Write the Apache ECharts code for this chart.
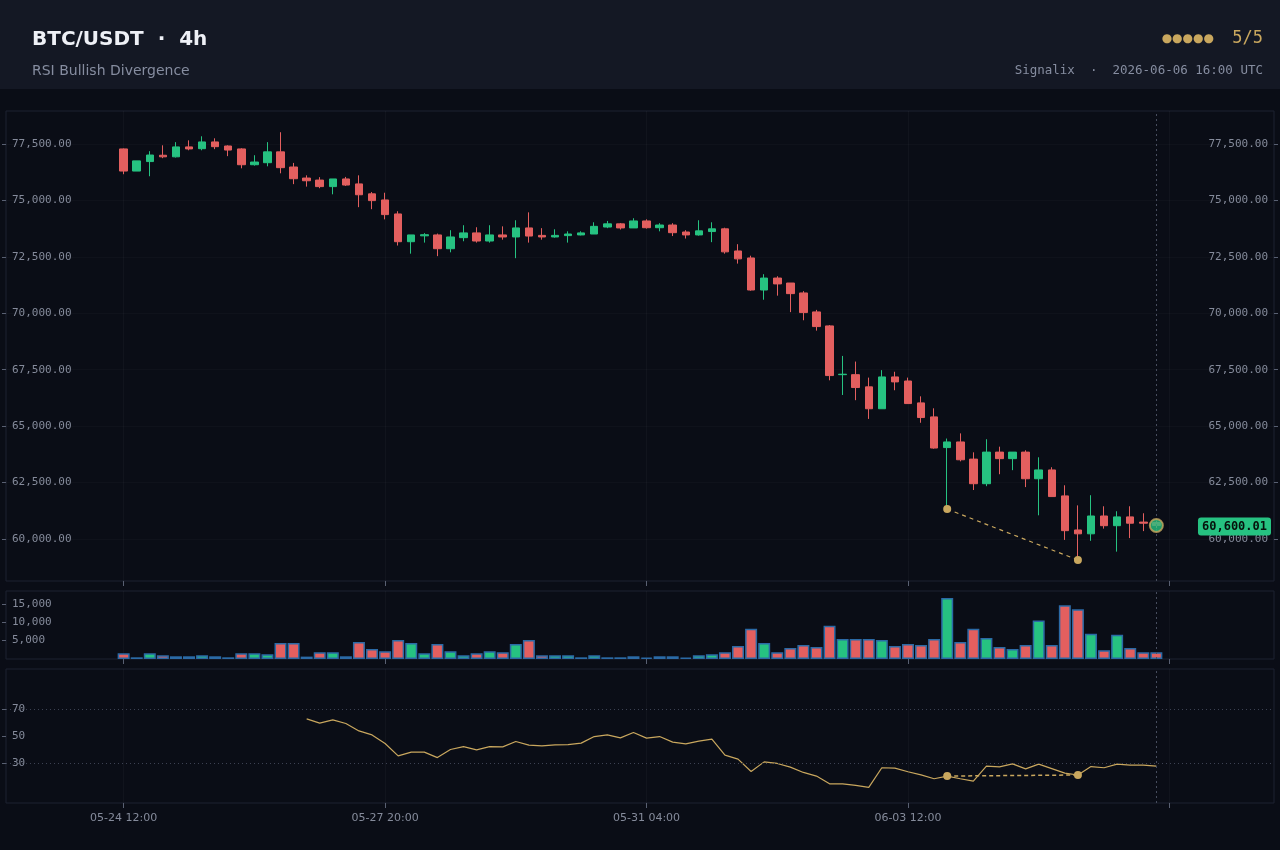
<!DOCTYPE html>
<html>
<head>
<meta charset="utf-8">
<title>BTC/USDT 4h - RSI Bullish Divergence</title>
<script src="https://cdn.jsdelivr.net/npm/echarts@6/dist/echarts.min.js"></script>
<style>
  html, body { margin: 0; padding: 0; background: #0a0d16; }
  #chart-container { width: 1280px; height: 850px; }
</style>
</head>
<body>
<div id="chart-container"></div>
<script>
var dom = document.getElementById("chart-container");
var myChart = echarts.init(dom, null, { renderer: "canvas" });

// 4h candles, first one at 2026-05-24 12:00 UTC
const START_UTC = Date.UTC(2026, 4, 24, 12, 0);
const BAR_MS = 4 * 3600 * 1000;
const PAD = 9; // empty slots on each side of the data

const opens = [
  77280, 76300, 76720, 77000, 76930, 77370, 77290, 77590, 77410, 77280,
  76580, 76670, 77150, 76480, 75990, 75900, 75610, 75950, 75730, 75290,
  75020, 74400, 73170, 73430, 73470, 72860, 73350, 73560, 73200, 73470,
  73380, 73780, 73450, 73380, 73440, 73470, 73510, 73820, 73960, 73780,
  74090, 73790, 73910, 73600, 73470, 73620, 73740, 72760, 72450, 71030,
  71560, 71340, 70900, 70060, 69440, 67280, 67280, 66740, 65770, 67180,
  67000, 66030, 65410, 64050, 64300, 63540, 62450, 63850, 63560, 63850,
  62670, 63060, 61910, 60400, 60230, 61020, 60590, 60980, 60750, 60730
];
const closes = [
  76300, 76750, 77010, 76930, 77370, 77280, 77590, 77380, 77230, 76580,
  76700, 77150, 76450, 75960, 75870, 75610, 75950, 75680, 75250, 74990,
  74370, 73170, 73470, 73480, 72860, 73380, 73560, 73200, 73470, 73380,
  73780, 73420, 73380, 73450, 73510, 73560, 73850, 73960, 73780, 74090,
  73790, 73910, 73570, 73470, 73650, 73740, 72720, 72410, 71030, 71560,
  71300, 70870, 70030, 69410, 67240, 67300, 66710, 65770, 67180, 66960,
  66000, 65380, 64030, 64300, 63510, 62450, 63850, 63560, 63850, 62670,
  63060, 61880, 60370, 60230, 61020, 60590, 60980, 60700, 60700, 60600.01
];
const highs = [
  77300, 76750, 77180, 77440, 77580, 77660, 77840, 77750, 77440, 77310,
  77000, 77580, 78020, 76660, 76110, 76030, 75950, 76040, 76110, 75370,
  75340, 74520, 73470, 73550, 73530, 73680, 73900, 73810, 73900, 73850,
  74120, 74470, 73770, 73720, 73630, 73630, 74030, 74090, 74000, 74210,
  74160, 73990, 73990, 73680, 74120, 74030, 73790, 73060, 72550, 71730,
  71640, 71340, 70980, 70150, 69480, 68110, 67860, 67150, 67480, 67410,
  67150, 66320, 65790, 64450, 64680, 63840, 64420, 64090, 63850, 63930,
  63620, 63180, 62380, 61490, 61940, 61450, 61230, 61450, 61140, 60850
];
const lows = [
  76160, 76300, 76070, 76870, 76900, 77220, 77220, 77270, 76960, 76420,
  76540, 76510, 76200, 75720, 75610, 75540, 75270, 75640, 74700, 74610,
  74160, 73000, 72640, 73130, 72530, 72700, 73190, 73130, 73130, 73260,
  72440, 73130, 73260, 73350, 73130, 73450, 73510, 73770, 73710, 73780,
  73750, 73630, 73420, 73310, 73440, 73150, 72640, 72200, 71000, 70600,
  70780, 70050, 69690, 69230, 67030, 66380, 66150, 65320, 65770, 66590,
  66000, 65150, 64000, 61325, 63440, 62170, 62340, 62870, 63050, 62300,
  61050, 61880, 59960, 59070, 59920, 60460, 59440, 60040, 60350, 60480
];
const volumes = [
  1570, 460, 1570, 1020, 740, 740, 1020, 740, 460, 1570,
  1570, 1300, 4350, 4350, 650, 1850, 1850, 740, 4630, 2690,
  2130, 5190, 4350, 1570, 4070, 2130, 1020, 1570, 2130, 1850,
  4070, 5190, 1020, 1020, 1020, 460, 1020, 460, 460, 740,
  370, 740, 740, 370, 1020, 1300, 1850, 3520, 8240, 4350,
  1850, 2960, 3800, 3240, 9070, 5460, 5460, 5460, 5190, 3520,
  4070, 3800, 5460, 16570, 4630, 8240, 5740, 3240, 2690, 3800,
  10460, 3800, 14630, 13520, 6850, 2410, 6570, 2960, 1850, 1850
];
const rsi = [
  null, null, null, null, null, null, null, null, null, null,
  null, null, null, null, 62.8, 59.6, 62.0, 59.3, 53.8, 50.8,
  44.4, 35.2, 38.0, 38.0, 33.9, 39.9, 42.1, 39.7, 42.1, 41.9,
  45.9, 43.2, 42.7, 43.4, 43.6, 44.7, 49.6, 50.8, 48.6, 52.6,
  48.4, 49.6, 45.4, 44.1, 46.2, 47.6, 35.7, 32.7, 23.5, 30.7,
  29.5, 26.8, 22.8, 20.1, 14.3, 14.3, 13.1, 11.6, 26.3, 26.0,
  23.3, 21.0, 18.1, 20.1, 18.1, 16.3, 27.5, 27.0, 29.2, 25.5,
  29.0, 25.7, 22.3, 20.9, 27.2, 26.3, 29.0, 28.3, 28.3, 27.5
];
// bullish divergence: lower low in price, higher low in RSI
const divergenceBars = [63, 73];

const priceTicks = [60000, 62500, 65000, 67500, 70000, 72500, 75000, 77500];
const volumeTicks = [5000, 10000, 15000];
const rsiTicks = [30, 50, 70];
const rsiBands = [70, 30];

const UP = "#26c281";
const DOWN = "#e35f5f";
const GOLD = "#c9a75e";
const MUTED = "#858b9b";
const MONO = '"DejaVu Sans Mono", monospace';
const SANS = '"DejaVu Sans", sans-serif';

function pad2(n) { return String(n).padStart(2, "0"); }

const categories = [];
for (let i = -PAD; i < opens.length + PAD; i++) {
  if (i < 0 || i >= opens.length) { categories.push(""); continue; }
  const d = new Date(START_UTC + i * BAR_MS);
  categories.push(pad2(d.getUTCMonth() + 1) + "-" + pad2(d.getUTCDate()) + " " + pad2(d.getUTCHours()) + ":00");
}
const lastIdx = opens.length - 1 + PAD;
const lastClose = closes[closes.length - 1];

const candleData = opens.map(function (o, i) {
  return [i + PAD, o, closes[i], lows[i], highs[i]];
});
const volumeData = volumes.map(function (v, i) {
  return { value: [i + PAD, v], itemStyle: { color: closes[i] >= opens[i] ? UP : DOWN } };
});
const rsiData = [];
rsi.forEach(function (v, i) { if (v !== null) rsiData.push([i + PAD, v]); });

const priceDiv = divergenceBars.map(function (b) { return [b + PAD, lows[b]]; });
const rsiDiv = divergenceBars.map(function (b) { return [b + PAD, rsi[b]]; });

function fmtPrice(v) {
  return Number(v).toLocaleString("en-US", { minimumFractionDigits: 2, maximumFractionDigits: 2 });
}
function fmtInt(v) { return Number(v).toLocaleString("en-US"); }

function tickEvery(idx) { return idx >= PAD && (idx - PAD) % 20 === 0; }

function makeX(gridIndex, showLabel) {
  return {
    type: "category",
    gridIndex: gridIndex,
    data: categories,
    boundaryGap: false,
    axisLine: { show: false },
    axisTick: { show: true, interval: tickEvery, length: 5, lineStyle: { color: "#596072" } },
    axisLabel: { show: showLabel, interval: tickEvery, color: MUTED, fontSize: 11, fontFamily: SANS, margin: 10 },
    splitLine: { show: true, interval: tickEvery, lineStyle: { color: "rgba(255,255,255,0.03)" } }
  };
}

function makeY(gridIndex, pos, min, max, ticks, fmt, split) {
  return {
    type: "value",
    gridIndex: gridIndex,
    position: pos,
    min: min,
    max: max,
    axisLine: { show: false },
    axisTick: { show: true, customValues: ticks, length: 4, lineStyle: { color: "#596072" } },
    axisLabel: { inside: true, customValues: ticks, formatter: fmt, color: MUTED, fontSize: 11, fontFamily: MONO, margin: 6 },
    splitLine: { show: split, lineStyle: { color: "rgba(255,255,255,0.022)" } }
  };
}

const nowLine = {
  symbol: "none",
  silent: true,
  label: { show: false },
  lineStyle: { type: [2, 3], color: "#474d5e", width: 1 },
  data: [{ xAxis: lastIdx }]
};

var option = {
  backgroundColor: "#0a0d16",
  animation: false,
  textStyle: { fontFamily: SANS },
  graphic: [
    { type: "rect", left: 0, top: 0, shape: { width: 1280, height: 89 }, style: { fill: "#141824" } },
    { type: "text", left: 32, top: 30, style: { text: "BTC/USDT  ·  4h", fill: "#eef0f6", font: 'bold 20px "DejaVu Sans"' } },
    { type: "text", left: 32, top: 64, style: { text: "RSI Bullish Divergence", fill: "#868da0", font: '14px "DejaVu Sans"' } },
    { type: "text", right: 66, top: 33, style: { text: "●●●●●", fill: GOLD, font: '12px "DejaVu Sans"' } },
    { type: "text", right: 17, top: 30, style: { text: "5/5", fill: GOLD, font: '17px "DejaVu Sans Mono"' } },
    { type: "text", right: 17, top: 64, style: { text: "Signalix  ·  2026-06-06 16:00 UTC", fill: "#868da0", font: '12.5px "DejaVu Sans Mono"' } }
  ],
  grid: [
    { left: 6, right: 6, top: 111, height: 470, show: true, borderColor: "#1d2231", backgroundColor: "transparent" },
    { left: 6, right: 6, top: 591, height: 68, show: true, borderColor: "#1d2231", backgroundColor: "transparent" },
    { left: 6, right: 6, top: 669, height: 134, show: true, borderColor: "#1d2231", backgroundColor: "transparent" }
  ],
  xAxis: [makeX(0, false), makeX(1, false), makeX(2, true)],
  yAxis: [
    makeY(0, "left", 58140, 78960, priceTicks, fmtPrice, true),
    makeY(0, "right", 58140, 78960, priceTicks, fmtPrice, false),
    makeY(1, "left", 0, 18500, volumeTicks, fmtInt, false),
    makeY(2, "left", 0, 100, rsiTicks, fmtInt, false)
  ],
  series: [
    {
      name: "BTC/USDT",
      type: "candlestick",
      xAxisIndex: 0,
      yAxisIndex: 0,
      barWidth: 8,
      encode: { x: 0, y: [1, 2, 3, 4] },
      data: candleData,
      itemStyle: { color: UP, color0: DOWN, borderColor: UP, borderColor0: DOWN, borderWidth: 1 },
      markLine: nowLine
    },
    {
      name: "Price divergence",
      type: "line",
      xAxisIndex: 0,
      yAxisIndex: 0,
      data: priceDiv,
      symbol: "circle",
      symbolSize: 8,
      itemStyle: { color: GOLD },
      lineStyle: { color: GOLD, width: 1.2, type: [4, 4] },
      z: 5
    },
    {
      name: "Last",
      type: "scatter",
      xAxisIndex: 0,
      yAxisIndex: 0,
      data: [[lastIdx, lastClose]],
      symbolSize: 13,
      itemStyle: { color: UP, borderColor: GOLD, borderWidth: 2 },
      z: 6,
      markLine: {
        symbol: "none",
        silent: true,
        lineStyle: { color: "rgba(0,0,0,0)", width: 0 },
        label: {
          position: "insideEndTop",
          distance: [3, -10],
          formatter: function () { return fmtPrice(lastClose); },
          backgroundColor: UP,
          color: "#06120c",
          fontFamily: MONO,
          fontWeight: "bold",
          fontSize: 12,
          padding: [3, 4],
          borderRadius: 3
        },
        data: [{ yAxis: lastClose }]
      }
    },
    {
      name: "Volume",
      type: "bar",
      xAxisIndex: 1,
      yAxisIndex: 2,
      barWidth: 12,
      data: volumeData,
      itemStyle: { borderColor: "#2b6aa6", borderWidth: 1.5 },
      markLine: nowLine
    },
    {
      name: "RSI",
      type: "line",
      xAxisIndex: 2,
      yAxisIndex: 3,
      data: rsiData,
      symbol: "none",
      lineStyle: { color: GOLD, width: 1.2 },
      markLine: {
        symbol: "none",
        silent: true,
        label: { show: false },
        lineStyle: { type: [1, 3], color: "#3d4253", width: 1 },
        data: rsiBands.map(function (v) { return { yAxis: v }; }).concat([{ xAxis: lastIdx, lineStyle: { type: [2, 3], color: "#474d5e" } }])
      }
    },
    {
      name: "RSI divergence",
      type: "line",
      xAxisIndex: 2,
      yAxisIndex: 3,
      data: rsiDiv,
      symbol: "circle",
      symbolSize: 8,
      itemStyle: { color: GOLD },
      lineStyle: { color: GOLD, width: 1.5, type: [4, 3] },
      z: 5
    }
  ]
};

if (option && typeof option === "object") {
  myChart.setOption(option);
}

window.addEventListener("resize", myChart.resize);
</script>
</body>
</html>
